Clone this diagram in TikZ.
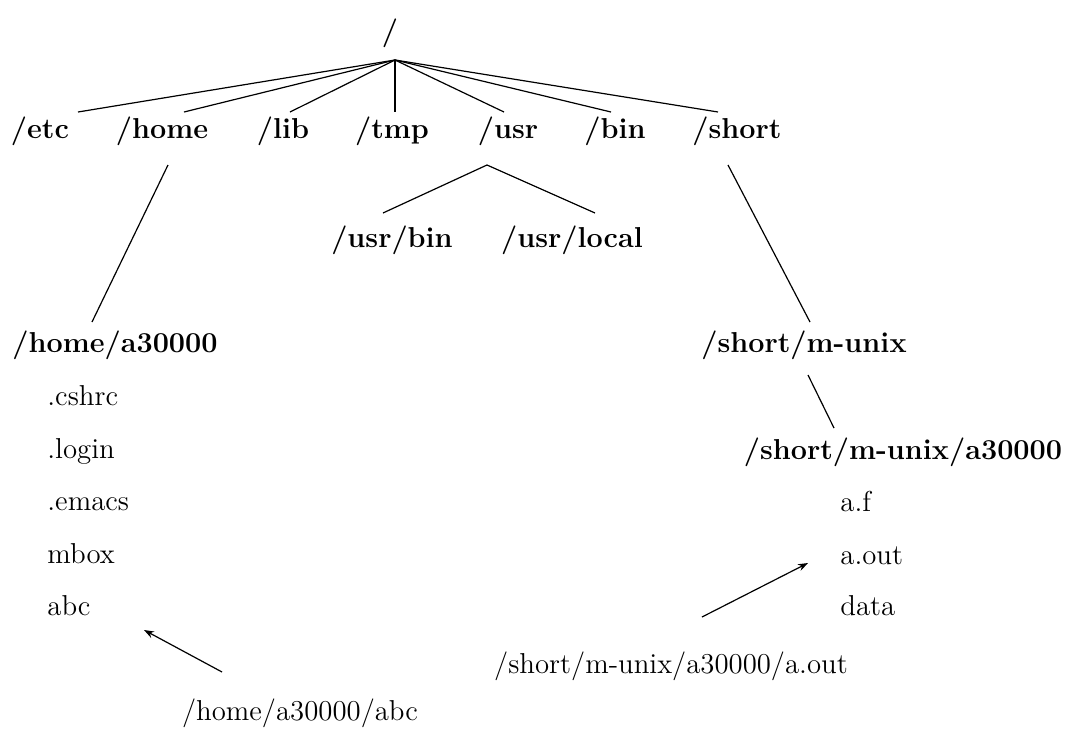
\documentclass[tikz,border=0pt]{standalone}
\usetikzlibrary{arrows.meta}
\begin{document}
\begin{tikzpicture}[x=0.5pt,y=-0.5pt,
  dir/.style={font=\fontsize{14.4}{17}\selectfont\bfseries, anchor=base, inner sep=0pt},
  file/.style={font=\fontsize{14.4}{17}\selectfont, anchor=base west, inner sep=0pt},
  path/.style={font=\fontsize{14.4}{17}\selectfont, anchor=base, inner sep=0pt},
  edge/.style={line width=0.6pt},
  pointer/.style={line width=0.6pt, -{Stealth[length=5pt,width=3.6pt]}}]
\useasboundingbox (0,0) rectangle (1073,729);

% directory names
\node[dir] (root)  at (390,40)  {/};
\node[dir] (etc)   at (40,138)  {/etc};
\node[dir] (home)  at (162,138) {/home};
\node[dir] (lib)   at (283,138) {/lib};
\node[dir] (tmp)   at (392,138) {/tmp};
\node[dir] (usr)   at (508,138) {/usr};
\node[dir] (bin)   at (615,138) {/bin};
\node[dir] (short) at (737,138) {/short};
\node[dir] (usrbin)   at (392,247) {/usr/bin};
\node[dir] (usrlocal) at (572,247) {/usr/local};
\node[dir] (homeuser) at (115,352) {/home/a30000};
\node[dir] (munix)    at (804,352) {/short/m-unix};
\node[dir] (munixuser) at (903,459) {/short/m-unix/a30000};

% files in the home directory
\node[file] (cshrc) at (47,405) {.cshrc};
\node[file] (login) at (47,458) {.login};
\node[file] (emacs) at (47,510) {.emacs};
\node[file] (mbox)  at (47,563) {mbox};
\node[file] (abc)   at (47,615) {abc};

% files in the m-unix directory
\node[file] (af)   at (840,511) {a.f};
\node[file] (aout) at (840,564) {a.out};
\node[file] (data) at (840,615) {data};

% full path names
\node[path] (abcpath)  at (300,720) {/home/a30000/abc};
\node[path] (aoutpath) at (671,673) {/short/m-unix/a30000/a.out};

% attachment points of the tree lines
\coordinate (rootfoot) at (395,60);
\coordinate (etctop)   at (78,112);
\coordinate (hometop)  at (184,112);
\coordinate (libtop)   at (290,112);
\coordinate (tmptop)   at (395,112);
\coordinate (usrtop)   at (504,112);
\coordinate (bintop)   at (611,112);
\coordinate (shorttop) at (718,112);
\coordinate (usrfoot)  at (487,165);
\coordinate (usrbintop)   at (383,213);
\coordinate (usrlocaltop) at (595,213);
\coordinate (homefoot)  at (168,165);
\coordinate (homeusertop) at (92,322);
\coordinate (shortfoot) at (728,165);
\coordinate (munixtop)  at (810,322);
\coordinate (munixfoot) at (808,375);
\coordinate (munixusertop) at (834,428);
\coordinate (abctail)  at (222,672);
\coordinate (abchead)  at (144,630);
\coordinate (aouttail) at (702,617);
\coordinate (aouthead) at (808,563);

% tree
\foreach \c in {etctop,hometop,libtop,tmptop,usrtop,bintop,shorttop}
  \draw[edge] (rootfoot) -- (\c);
\draw[edge] (usrbintop) -- (usrfoot) -- (usrlocaltop);
\draw[edge] (homefoot) -- (homeusertop);
\draw[edge] (shortfoot) -- (munixtop);
\draw[edge] (munixfoot) -- (munixusertop);

% path pointers
\draw[pointer] (abctail) -- (abchead);
\draw[pointer] (aouttail) -- (aouthead);
\end{tikzpicture}
\end{document}
